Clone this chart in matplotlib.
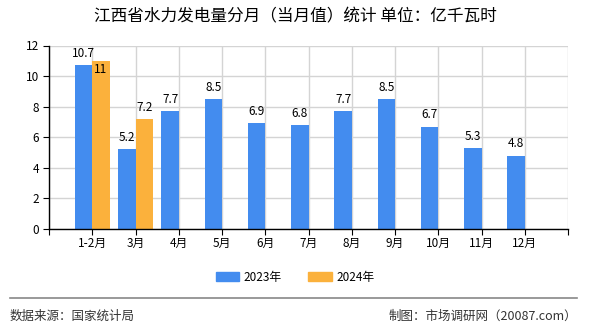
import matplotlib
matplotlib.use("Agg")
import matplotlib.pyplot as plt
from matplotlib.patches import Patch
import numpy as np

plt.rcParams['font.family'] = ['Noto Sans CJK SC', 'DejaVu Sans']

title = "江西省水力发电量分月（当月值）统计 单位：亿千瓦时"
months = ["1-2月", "3月", "4月", "5月", "6月", "7月", "8月", "9月", "10月", "11月", "12月"]
vals_2023 = [10.7, 5.2, 7.7, 8.5, 6.9, 6.8, 7.7, 8.5, 6.7, 5.3, 4.8]
vals_2024 = [11, 7.2]
series_names = ["2023年", "2024年"]
source_text = "数据来源：国家统计局"
credit_text = "制图：市场调研网（20087.com）"

blue = "#438CEF"
orange = "#FBB13C"

W, H = 590, 330
fig = plt.figure(figsize=(W / 100, H / 100), dpi=100)
ax = fig.add_axes([49 / W, 1 - 229 / H, (568 - 49) / W, (229 - 45.5) / H])

x = np.arange(len(months))
bw = 0.4
ax.bar(x - bw / 2, vals_2023, width=bw, color=blue, zorder=3)
x24 = np.arange(len(vals_2024))
ax.bar(x24 + bw / 2, vals_2024, width=bw, color=orange, zorder=3)

def fmt(v):
    return f"{v:g}"

for xi, v in zip(x, vals_2023):
    ax.text(xi - bw / 2, v + 0.35, fmt(v), ha="center", va="bottom", fontsize=8.5, zorder=4)
for xi, v in zip(x24, vals_2024):
    if v > max(vals_2023[xi], 0) and v - vals_2023[xi] < 1:
        ax.text(xi + bw / 2, v - 0.15, fmt(v), ha="center", va="top", fontsize=8.5, zorder=4)
    else:
        ax.text(xi + bw / 2, v + 0.35, fmt(v), ha="center", va="bottom", fontsize=8.5, zorder=4)

ax.set_xlim(-1, len(months))
ax.set_ylim(0, 12)
ax.set_yticks(np.arange(0, 13, 2))
ax.set_xticks(np.arange(-1, len(months) + 1))
ax.set_xticklabels([""] + months + [""], fontsize=8.5)
ax.tick_params(axis="y", labelsize=8.5, length=4, direction="out", pad=3)
ax.tick_params(axis="x", length=4, direction="out", pad=2)
ax.grid(True, color="#d4d4d4", linewidth=1, zorder=0)
for s in ["top", "right"]:
    ax.spines[s].set_visible(False)
for s in ["left", "bottom"]:
    ax.spines[s].set_color("black")
    ax.spines[s].set_linewidth(1)
    ax.spines[s].set_zorder(5)

fig.text(0.5, 1 - 17 / H, title, ha="center", va="center", fontsize=12)

handles = [Patch(color=blue), Patch(color=orange)]
fig.legend(handles, series_names, loc="center", bbox_to_anchor=(0.5, 1 - 277 / H),
           ncol=2, frameon=False, fontsize=8.5, handlelength=2.0, handleheight=0.9,
           columnspacing=2.2, handletextpad=0.4)

fig.add_artist(plt.Line2D([10 / W, 577 / W], [1 - 298 / H, 1 - 298 / H], color="#888888", linewidth=1.2))
fig.text(10 / W, 1 - 316 / H, source_text, ha="left", va="center", fontsize=9, color="#333333")
fig.text(577 / W, 1 - 316 / H, credit_text, ha="right", va="center", fontsize=9, color="#333333")

fig.savefig("out.png", dpi=100)
